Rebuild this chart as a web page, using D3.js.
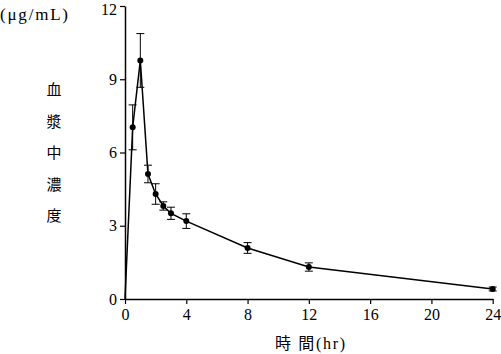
<!DOCTYPE html>
<html><head><meta charset="utf-8">
<script src="https://cdn.jsdelivr.net/npm/d3@7"></script>
<style>body{margin:0;background:#fff}svg{display:block}text{font-family:"Liberation Serif","DejaVu Serif","Noto Sans CJK JP",serif;fill:#000}</style>
</head><body><svg id="c" width="501" height="354"></svg>
<script>
const times = [0, 0.5, 1, 1.5, 2, 2.5, 3, 4, 8, 12, 24];
const conc  = [0, 7.03, 9.77, 5.12, 4.30, 3.81, 3.51, 3.19, 2.09, 1.31, 0.41];
const sd    = [0, 0.92, 1.1, 0.36, 0.42, 0.17, 0.25, 0.3, 0.22, 0.17, 0.08];
const xTicks = [0, 4, 8, 12, 16, 20, 24];
const yTicks = [0, 3, 6, 9, 12];
const yLabelChars = ["血", "漿", "中", "濃", "度"];

const svg = d3.select("#c");
const x = d3.scaleLinear().domain([0, 24]).range([125, 492.7]);
const y = d3.scaleLinear().domain([0, 12]).range([299, 6]);

const xAxis = svg.append("g").attr("transform", `translate(0,${y(0)})`)
  .call(d3.axisBottom(x).tickValues(xTicks).tickSize(5).tickSizeOuter(0).tickPadding(5));
const yAxis = svg.append("g").attr("transform", `translate(${x(0)},0)`)
  .call(d3.axisLeft(y).tickValues(yTicks).tickSize(5).tickSizeOuter(0).tickPadding(3));
[xAxis, yAxis].forEach(a => {
  a.select(".domain").attr("stroke", "#000").attr("stroke-width", 1.5);
  a.selectAll(".tick line").attr("stroke", "#000").attr("stroke-width", 1.2);
  a.selectAll(".tick text").style("font-size", "16px").style("font-family", '"Liberation Serif",serif').attr("fill", "#000");
});
yAxis.selectAll(".tick text").filter(d => d === 12).attr("dy", "0.5em");

const data = times.map((t, i) => ({t, c: conc[i], s: sd[i]}));

svg.append("path").datum(data)
  .attr("fill", "none").attr("stroke", "#000").attr("stroke-width", 1.5)
  .attr("d", d3.line().x(d => x(d.t)).y(d => y(d.c)));

const eb = svg.append("g").attr("stroke", "#000").attr("stroke-width", 1);
data.filter(d => d.s > 0).forEach(d => {
  const cx = x(d.t);
  eb.append("line").attr("x1", cx).attr("x2", cx).attr("y1", y(d.c + d.s)).attr("y2", y(d.c - d.s));
  eb.append("line").attr("x1", cx - 4).attr("x2", cx + 4).attr("y1", y(d.c + d.s)).attr("y2", y(d.c + d.s));
  eb.append("line").attr("x1", cx - 4).attr("x2", cx + 4).attr("y1", y(d.c - d.s)).attr("y2", y(d.c - d.s));
});

svg.append("g").selectAll("circle").data(data.filter(d => d.t > 0)).join("circle")
  .attr("cx", d => x(d.t)).attr("cy", d => y(d.c)).attr("r", 3).attr("fill", "#000");

svg.append("text").attr("x", 0).attr("y", 20).style("font-size", "17px").attr("textLength", 68).text("(μg/mL)");
svg.append("g").selectAll("text").data(yLabelChars).join("text")
  .attr("x", 54).attr("y", (d, i) => 90 + i * 31.5).attr("dy", "0.36em")
  .attr("text-anchor", "middle").style("font-size", "15px")
  .style("font-family", '"Noto Sans CJK JP",sans-serif').text(d => d);

svg.append("text").attr("x", 310).attr("y", 349).attr("text-anchor", "middle")
  .style("font-size", "16px").style("font-family", '"Liberation Serif","Noto Sans CJK JP",serif')
  .attr("textLength", 70).text("時 間(hr)");
</script></body></html>
